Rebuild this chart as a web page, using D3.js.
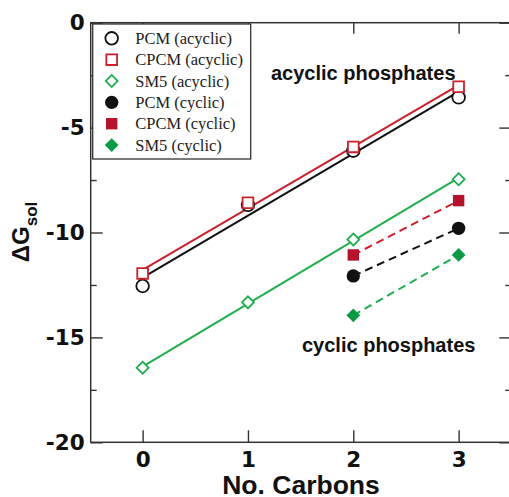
<!DOCTYPE html>
<html>
<head>
<meta charset="utf-8">
<script src="https://cdn.jsdelivr.net/npm/d3@7"></script>
<style>
  body { margin: 0; background: #fff; }
  svg { display: block; }
</style>
</head>
<body>
<div id="chart"></div>
<script>
const carbons = [0, 1, 2, 3]
const pcmAcyclic = [-12.55, -8.68, -6.1, -3.56]
const cpcmAcyclic = [-11.95, -8.58, -5.92, -3.05]
const sm5Acyclic = [-16.45, -13.33, -10.33, -7.46]

const cyclicCarbons = [2, 3]
const pcmCyclic = [-12.07, -9.8]
const cpcmCyclic = [-11.07, -8.48]
const sm5Cyclic = [-13.95, -11.07]

const yMajor = [0, -5, -10, -15, -20]
const yMinor = [-2.5, -7.5, -12.5, -17.5]

const legendLabels = ["PCM (acyclic)", "CPCM (acyclic)", "SM5 (acyclic)",
                      "PCM (cyclic)", "CPCM (cyclic)", "SM5 (cyclic)"]

const BLACK = "#111"
const RED = "#c8202c"
const RED_FILL = "#b5122b"
const GREEN = "#20ad4e"
const GREEN_FILL = "#0a9a45"

const W = 509, H = 497
const PLOT = {left: 90.7, right: 511.3, top: 22.7, bottom: 442.3}

const svg = d3.select("#chart").append("svg")
  .attr("width", W)
  .attr("height", H)

const x = d3.scaleLinear().domain([-0.493, 3.5]).range([PLOT.left, PLOT.right])
const y = d3.scaleLinear().domain([-20, 0]).range([PLOT.bottom, PLOT.top])

// frame
svg.append("rect")
  .attr("x", PLOT.left).attr("y", PLOT.top)
  .attr("width", PLOT.right - PLOT.left).attr("height", PLOT.bottom - PLOT.top)
  .attr("fill", "none").attr("stroke", "#333").attr("stroke-width", 1.5)

function styleAxis(g) {
  g.select(".domain").remove()
  g.selectAll("line").attr("stroke", "#333").attr("stroke-width", 1.4)
  g.selectAll("text")
    .attr("font-family", "'DejaVu Sans', Arial, sans-serif")
    .attr("font-weight", "bold")
    .attr("font-size", 21.5)
    .attr("fill", "#111")
}

// plain hyphen for negatives, as in the original
const fmt = d => String(d)

svg.append("g")
  .attr("transform", "translate(" + PLOT.left + ",0)")
  .call(d3.axisLeft(y).tickValues(yMajor).tickSize(-12).tickPadding(6).tickFormat(fmt))
  .call(styleAxis)
svg.append("g")
  .attr("transform", "translate(" + PLOT.left + ",0)")
  .call(d3.axisLeft(y).tickValues(yMinor).tickSize(-6).tickFormat(""))
  .call(styleAxis)
svg.append("g")
  .attr("transform", "translate(" + PLOT.right + ",0)")
  .call(d3.axisRight(y).tickValues(yMajor).tickSize(-12).tickFormat(""))
  .call(styleAxis)
svg.append("g")
  .attr("transform", "translate(" + PLOT.right + ",0)")
  .call(d3.axisRight(y).tickValues(yMinor).tickSize(-6).tickFormat(""))
  .call(styleAxis)
svg.append("g")
  .attr("transform", "translate(0," + PLOT.bottom + ")")
  .call(d3.axisBottom(x).tickValues(carbons).tickSize(-12).tickPadding(9.5).tickFormat(fmt))
  .call(styleAxis)
svg.append("g")
  .attr("transform", "translate(0," + PLOT.top + ")")
  .call(d3.axisTop(x).tickValues(carbons).tickSize(-11).tickFormat(""))
  .call(styleAxis)

// axis titles
svg.append("text")
  .attr("x", 301).attr("y", 494)
  .attr("text-anchor", "middle")
  .attr("font-family", "'Liberation Sans', Arial, sans-serif")
  .attr("font-weight", "bold").attr("font-size", 26.5)
  .attr("fill", "#111")
  .text("No. Carbons")

const yTitle = svg.append("text")
  .attr("transform", "translate(29,232) rotate(-90)")
  .attr("text-anchor", "middle")
  .attr("font-family", "'Liberation Sans', Arial, sans-serif")
  .attr("font-weight", "bold").attr("font-size", 24)
  .attr("fill", "#111")
yTitle.append("tspan").text("ΔG")
yTitle.append("tspan").attr("dy", 8).attr("font-size", 17).text("sol")

// linear fits for acyclic series
function fit(xs, ys) {
  const mx = d3.mean(xs), my = d3.mean(ys)
  const sxy = d3.sum(xs, (v, i) => (v - mx) * (ys[i] - my))
  const sxx = d3.sum(xs, v => (v - mx) * (v - mx))
  const b = sxy / sxx
  return v => my + b * (v - mx)
}

const line = d3.line().x(d => x(d[0])).y(d => y(d[1]))
const xEnds = d3.extent(carbons)

const fits = [
  {ys: cpcmAcyclic, color: RED},
  {ys: pcmAcyclic, color: BLACK},
  {ys: sm5Acyclic, color: GREEN}
]
fits.forEach(s => {
  const f = fit(carbons, s.ys)
  svg.append("path")
    .attr("d", line(xEnds.map(v => [v, f(v)])))
    .attr("fill", "none").attr("stroke", s.color).attr("stroke-width", 2)
})

const dashed = [
  {ys: cpcmCyclic, color: RED},
  {ys: pcmCyclic, color: BLACK},
  {ys: sm5Cyclic, color: GREEN}
]
dashed.forEach(s => {
  svg.append("path")
    .attr("d", line(cyclicCarbons.map((v, i) => [v, s.ys[i]])))
    .attr("fill", "none").attr("stroke", s.color).attr("stroke-width", 2)
    .attr("stroke-dasharray", "8,5")
})

// markers
const series = [
  {xs: carbons, ys: pcmAcyclic, shape: "circle", open: true, color: BLACK},
  {xs: carbons, ys: cpcmAcyclic, shape: "square", open: true, color: RED},
  {xs: carbons, ys: sm5Acyclic, shape: "diamond", open: true, color: GREEN},
  {xs: cyclicCarbons, ys: pcmCyclic, shape: "circle", open: false, color: BLACK},
  {xs: cyclicCarbons, ys: cpcmCyclic, shape: "square", open: false, color: RED_FILL},
  {xs: cyclicCarbons, ys: sm5Cyclic, shape: "diamond", open: false, color: GREEN_FILL}
]

function marker(g, s) {
  const sym = s.shape === "circle" ? d3.symbol(d3.symbolCircle, s.open ? 125 : 140)
    : s.shape === "square" ? d3.symbol(d3.symbolSquare, s.open ? 115 : 130)
    : d3.symbol(d3.symbolSquare, s.open ? 72 : 95)
  g.append("path")
    .attr("d", sym())
    .attr("transform", s.shape === "diamond" ? "rotate(45)" : null)
    .attr("fill", s.open ? "#fff" : s.color)
    .attr("stroke", s.open ? s.color : "none")
    .attr("stroke-width", 1.8)
}

series.forEach(s => {
  s.xs.forEach((v, i) => {
    const g = svg.append("g")
      .attr("transform", "translate(" + x(v) + "," + y(s.ys[i]) + ")")
    marker(g, s)
  })
})

// annotations
svg.append("text")
  .attr("x", 271).attr("y", 79.5)
  .attr("font-family", "'Liberation Sans', Arial, sans-serif")
  .attr("font-weight", "bold").attr("font-size", 20).attr("fill", "#111")
  .text("acyclic phosphates")
svg.append("text")
  .attr("x", 302).attr("y", 352)
  .attr("font-family", "'Liberation Sans', Arial, sans-serif")
  .attr("font-weight", "bold").attr("font-size", 20).attr("fill", "#111")
  .text("cyclic phosphates")

// legend
const legend = svg.append("g").attr("transform", "translate(92.7,24)")
legend.append("rect")
  .attr("width", 158).attr("height", 135)
  .attr("fill", "#fff").attr("stroke", "#333").attr("stroke-width", 1.3)

series.forEach((s, i) => {
  const row = legend.append("g")
    .attr("transform", "translate(19," + (14.3 + i * 21.35) + ")")
  marker(row, s)
  row.append("text")
    .attr("x", 23.5).attr("y", 0).attr("dy", "0.35em")
    .attr("font-family", "'Liberation Serif', 'Times New Roman', serif")
    .attr("font-size", 16.5).attr("fill", "#222")
    .text(legendLabels[i])
})
</script>
</body>
</html>
